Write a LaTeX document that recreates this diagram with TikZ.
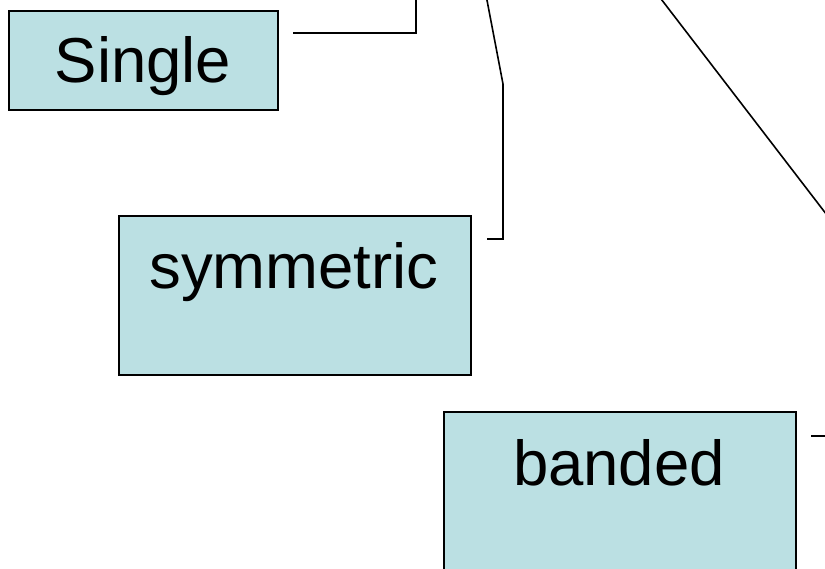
\documentclass[tikz,border=0pt]{standalone}
\usepackage{fontspec}
\setmainfont{Liberation Sans}
\definecolor{boxfill}{HTML}{BBE0E3}
\begin{document}
\begin{tikzpicture}[x=1pt,y=-1pt,
  box/.style={draw=black,line width=1.8pt,fill=boxfill,inner sep=0pt,anchor=north west},
  lbl/.style={font=\fontsize{63.5}{70}\selectfont,inner sep=0pt,anchor=base},
  conn/.style={draw=black,line width=1.6pt}]
\useasboundingbox (0,0) rectangle (825,568);
\begin{scope}
\clip (0,0) rectangle (825,568);
% boxes
\node[box,minimum width=269pt,minimum height=99pt] (single) at (8,10) {};
\node[lbl] (singlet) at (143,82) {Single};
\node[box,minimum width=352pt,minimum height=159pt] (sym) at (118,215) {};
\node[lbl] (symt) at (294,288) {symmetric};
\node[box,minimum width=352pt,minimum height=170pt] (band) at (443,411) {};
\node[lbl] (bandt) at (619,485) {banded};
% connector end points
\coordinate (c1a) at (293,33);
\coordinate (c1b) at (416,33);
\coordinate (c1c) at (416,-5);
\coordinate (c2a) at (487,239);
\coordinate (c2b) at (503,239);
\coordinate (c2c) at (503,84);
\coordinate (c2d) at (486,-5);
\coordinate (c3a) at (658,-5);
\coordinate (c3b) at (830,219);
\coordinate (c4a) at (811,436);
\coordinate (c4b) at (830,436);
\draw[conn] (c1a) -- (c1b) -- (c1c);
\draw[conn] (c2a) -- (c2b) -- (c2c) -- (c2d);
\draw[conn] (c3a) -- (c3b);
\draw[conn] (c4a) -- (c4b);
\end{scope}
\end{tikzpicture}
\end{document}
